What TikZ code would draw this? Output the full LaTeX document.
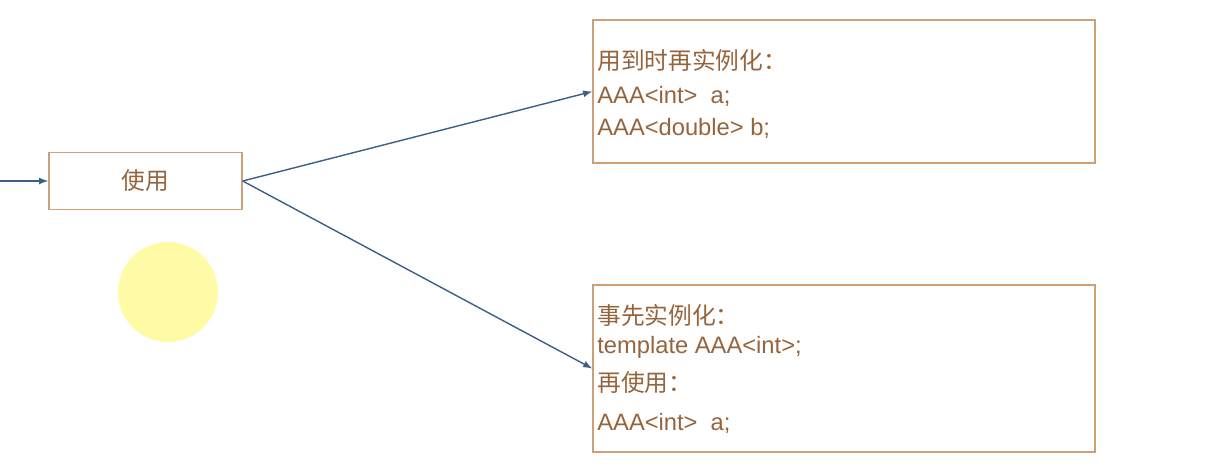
\documentclass[tikz,border=0pt]{standalone}
\usepackage{fontspec}
\setmainfont{Liberation Sans}
\newfontfamily\cjk{Noto Sans CJK SC}
\usepackage{tikz}
\definecolor{txtbrown}{RGB}{150,100,60}
\definecolor{boxbrown}{RGB}{205,160,120}
\definecolor{arrowblue}{RGB}{60,95,135}
\begin{document}
\begin{tikzpicture}[x=0.02cm,y=-0.02cm,
    box/.style={draw=boxbrown, line width=0.8pt},
    line/.style={arrowblue, line width=0.8pt, -latex},
    txt/.style={text=txtbrown, anchor=west, inner sep=0pt, font=\fontsize{13.5}{15}\selectfont}]
  \useasboundingbox (0,0) rectangle (1209,474);

  \fill[yellow!35] (168,292) circle(50);

  \node[txt, box, anchor=center, minimum width=193*0.02cm, minimum height=57*0.02cm]
    (use) at (145.5,181) {\cjk 使用};
  \node[box, minimum width=502*0.02cm, minimum height=143*0.02cm] (top) at (844,91.5) {};
  \node[box, minimum width=502*0.02cm, minimum height=167*0.02cm] (bot) at (844,368.5) {};

  \coordinate (in) at (0,181);
  \draw[line] (in) -- (use.west);
  \draw[line] (use.east) -- (top.west);
  \draw[line] (use.east) -- (bot.west);

  \node[txt] (t1) at (597,60) {\cjk 用到时再实例化：};
  \node[txt] (t2) at (597,96) {AAA<int>\ \ a;};
  \node[txt] (t3) at (597,128) {AAA<double> b;};

  \node[txt] (b1) at (597,315) {\cjk 事先实例化：};
  \node[txt] (b2) at (597,347) {template AAA<int>;};
  \node[txt] (b3) at (597,383) {\cjk 再使用：};
  \node[txt] (b4) at (597,423) {AAA<int>\ \ a;};
\end{tikzpicture}
\end{document}
